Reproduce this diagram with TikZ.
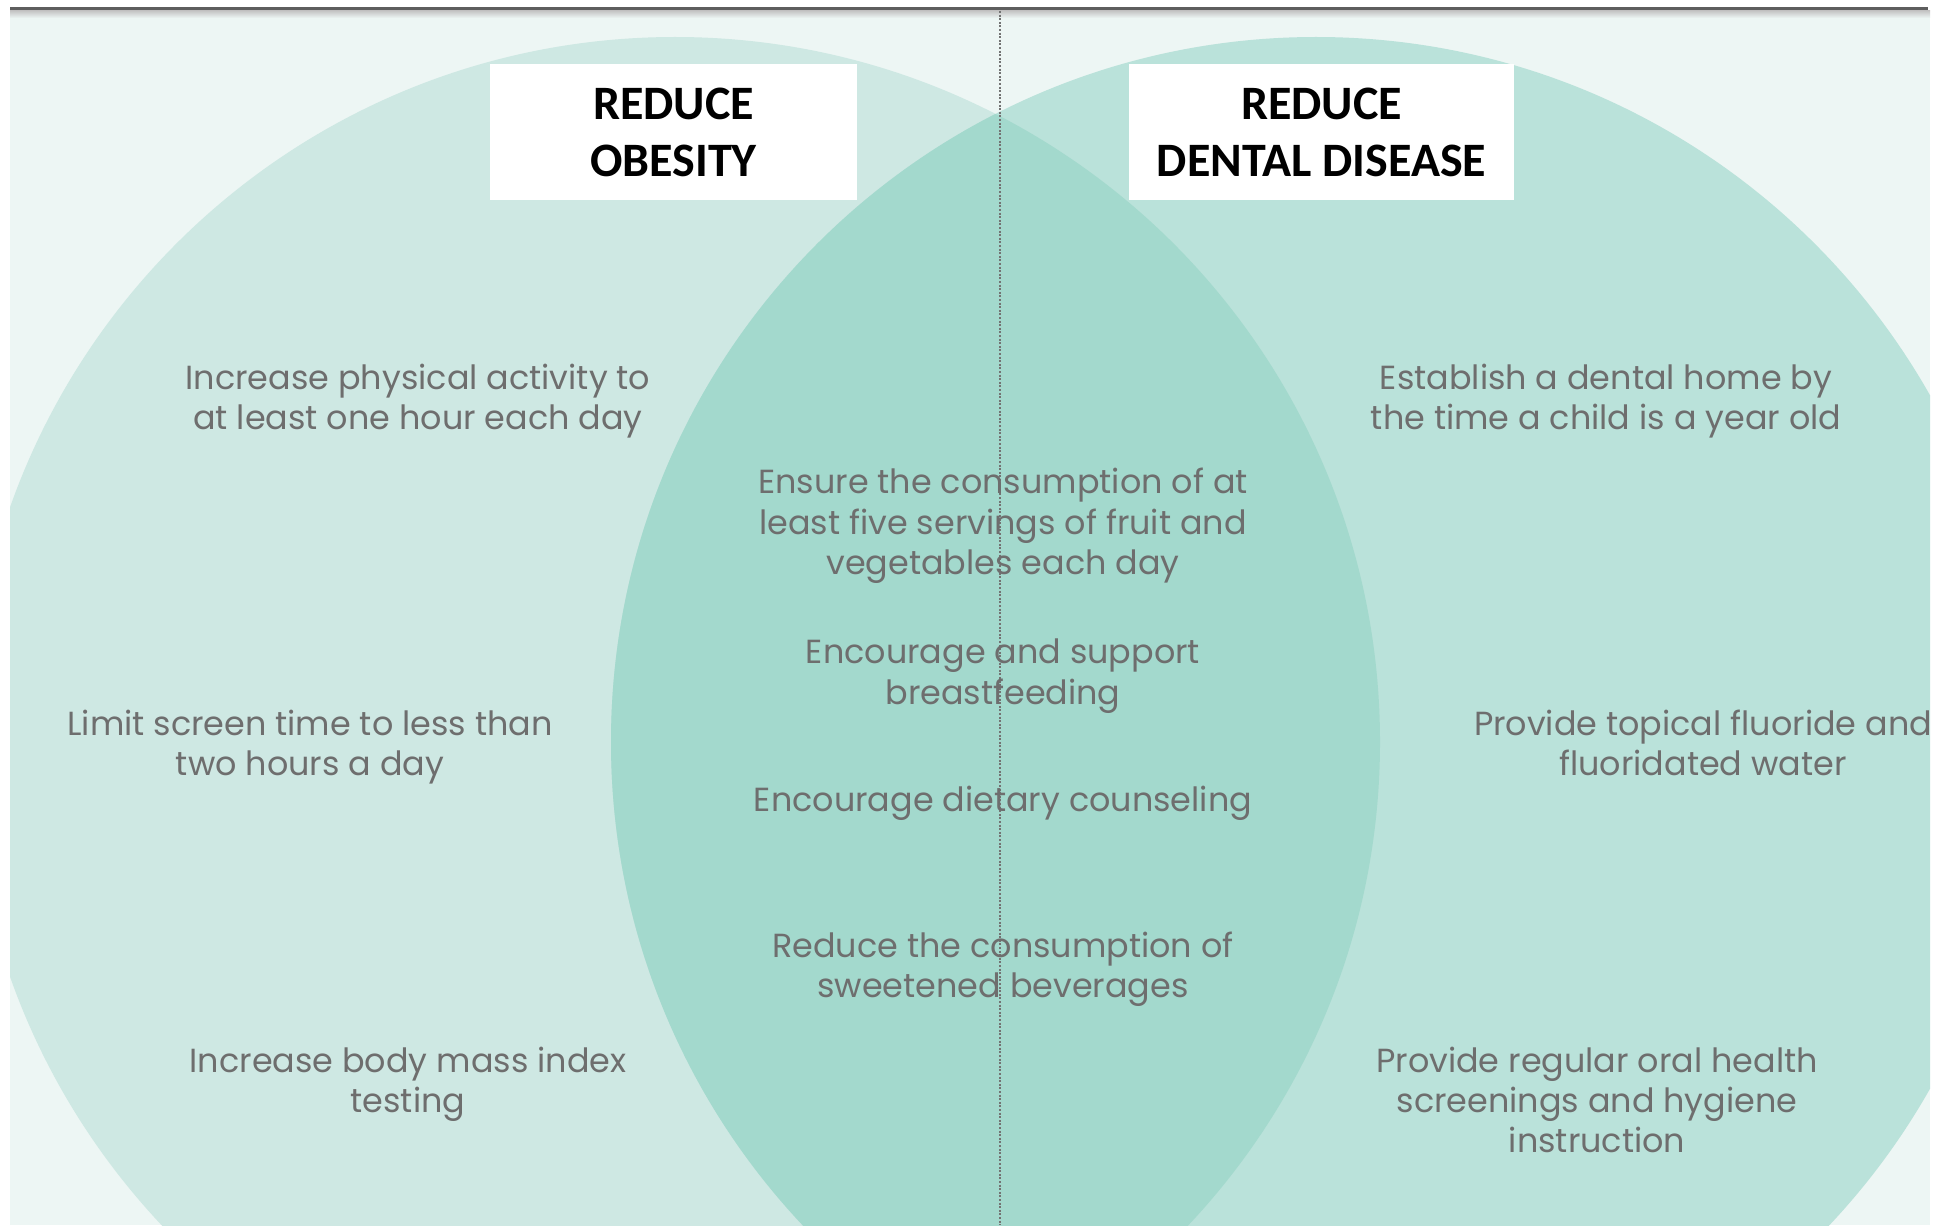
\documentclass[tikz,border=0pt]{standalone}
\usepackage{fontspec}
\setmainfont{Poppins}
\newfontfamily\titlefont{Carlito}
\definecolor{bgc}{HTML}{EDF6F4}
\definecolor{leftc}{HTML}{CEE8E3}
\definecolor{rightc}{HTML}{BAE2DA}
\definecolor{overc}{HTML}{A3D9CD}
\definecolor{txtc}{HTML}{6E6E6E}
\definecolor{topline}{HTML}{5E5E5E}
\tikzset{
  item/.style={align=center, text=txtc, font=\fontsize{16.7}{20.2}\selectfont, inner sep=0pt},
  titlebox/.style={fill=white, minimum height=68pt, align=center,
    font=\titlefont\bfseries\fontsize{24}{28.5}\selectfont, text=black, inner sep=0pt},
  divider/.style={draw=gray!90!black, line width=0.6pt, dash pattern=on 1pt off 0.8pt}
}
\begin{document}
\begin{tikzpicture}[x=0.5pt,y=-0.5pt]
\useasboundingbox (0,0) rectangle (1946,1225);
\fill[white] (0,0) rectangle (1946,1225);
\begin{scope}
\clip (10,0) rectangle (1930,1225);
\fill[bgc] (10,11) rectangle (1930,1225);
\fill[leftc] (675,742) circle (352.5pt);
\fill[rightc] (1316,742) circle (352.5pt);
\begin{scope}
\clip (675,742) circle (352.5pt);
\fill[overc] (1316,742) circle (352.5pt);
\end{scope}
\fill[topline] (8,7) rectangle (1928,11);
\shade[top color=gray!45, bottom color=bgc] (10,11) rectangle (1930,18);
\coordinate (dtop) at (1000,11);
\coordinate (dbot) at (1000,1225);
\draw[divider] (dtop) -- (dbot);

\node[titlebox, minimum width=183.5pt] (t1) at (673.5,132.5) {REDUCE\\OBESITY};
\node[titlebox, minimum width=192.5pt] (t2) at (1321.5,132.5) {REDUCE\\DENTAL DISEASE};

\node[item] (l1) at (418,401) {Increase physical activity to\\at least one hour each day};
\node[item] (l2) at (310,747) {Limit screen time to less than\\two hours a day};
\node[item] (l3) at (408,1084) {Increase body mass index\\testing};

\node[item] (c1) at (1003,526) {Ensure the consumption of at\\least five servings of fruit and\\vegetables each day};
\node[item] (c2) at (1003,676) {Encourage and support\\breastfeeding};
\node[item] (c3) at (1003,803) {Encourage dietary counseling};
\node[item] (c4) at (1003,969) {Reduce the consumption of\\sweetened beverages};

\node[item] (r1) at (1606,401) {Establish a dental home by\\the time a child is a year old};
\node[item] (r2) at (1703,743) {Provide topical fluoride and\\fluoridated water};
\node[item] (r3) at (1597,1100) {Provide regular oral health\\screenings and hygiene\\instruction};
\end{scope}
\end{tikzpicture}
\end{document}
